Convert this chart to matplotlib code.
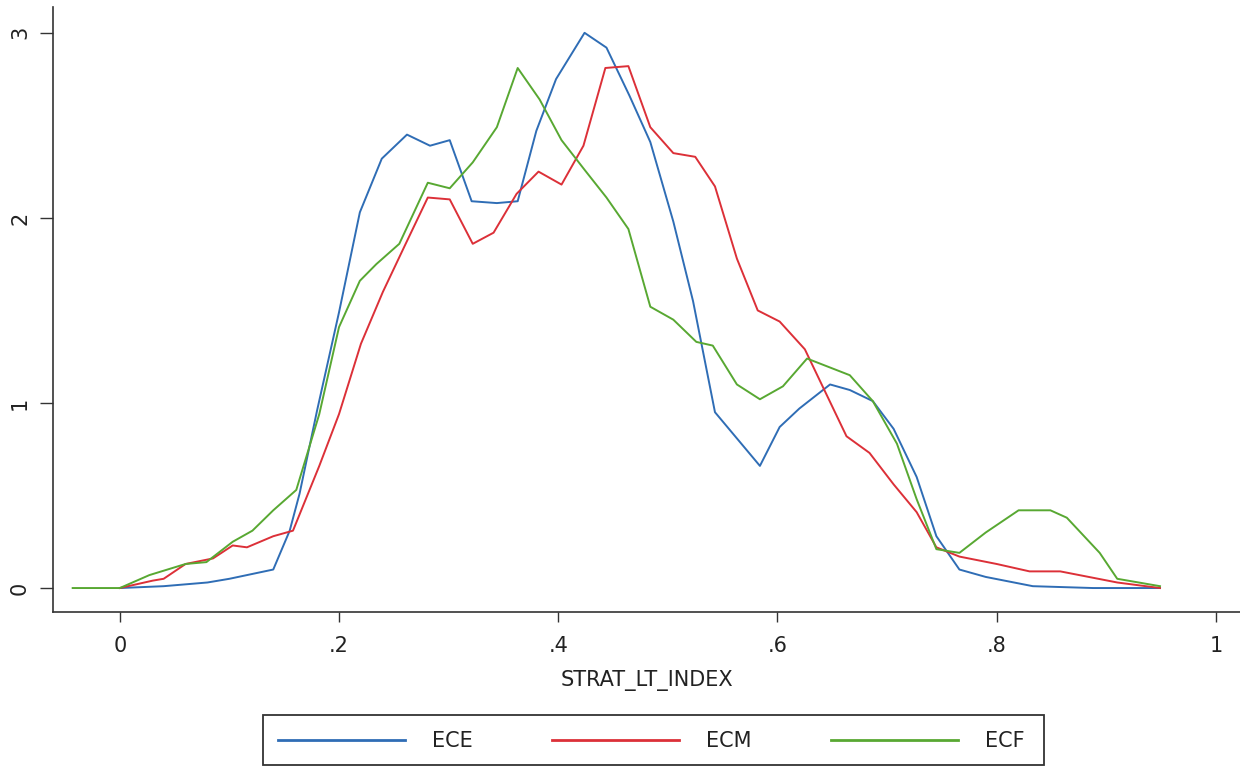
import matplotlib
matplotlib.use("Agg")
import matplotlib.pyplot as plt
from matplotlib.patches import Rectangle

plt.rcParams['font.family'] = ['DejaVu Sans']

# kernel density values
ece_x = [0, 0.04, 0.08, 0.10, 0.14, 0.155, 0.164, 0.18, 0.20, 0.219, 0.239, 0.262, 0.283, 0.301,
         0.321, 0.344, 0.363, 0.38, 0.398, 0.424, 0.444, 0.465, 0.484, 0.505, 0.523, 0.543, 0.584,
         0.602, 0.62, 0.648, 0.666, 0.687, 0.706, 0.727, 0.745, 0.766, 0.79, 0.833, 0.888, 0.949]
ece_y = [0, 0.01, 0.03, 0.05, 0.10, 0.31, 0.51, 0.96, 1.49, 2.03, 2.32, 2.45, 2.39, 2.42,
         2.09, 2.08, 2.09, 2.47, 2.75, 3.0, 2.92, 2.66, 2.41, 1.98, 1.55, 0.95, 0.66,
         0.87, 0.97, 1.10, 1.07, 1.01, 0.86, 0.60, 0.28, 0.10, 0.06, 0.01, 0.0, 0.0]

ecm_x = [0, 0.03, 0.04, 0.06, 0.085, 0.103, 0.116, 0.14, 0.158, 0.182, 0.20, 0.22, 0.24, 0.26,
         0.281, 0.301, 0.322, 0.341, 0.362, 0.382, 0.403, 0.423, 0.443, 0.464, 0.484, 0.505,
         0.525, 0.543, 0.563, 0.582, 0.602, 0.625, 0.663, 0.684, 0.706, 0.727, 0.745, 0.766,
         0.80, 0.83, 0.858, 0.91, 0.949]
ecm_y = [0, 0.04, 0.05, 0.13, 0.16, 0.23, 0.22, 0.28, 0.31, 0.66, 0.94, 1.32, 1.60, 1.85,
         2.11, 2.10, 1.86, 1.92, 2.13, 2.25, 2.18, 2.39, 2.81, 2.82, 2.49, 2.35,
         2.33, 2.17, 1.78, 1.50, 1.44, 1.29, 0.82, 0.73, 0.56, 0.41, 0.22, 0.17,
         0.13, 0.09, 0.09, 0.03, 0.0]

ecf_x = [-0.043, 0, 0.027, 0.06, 0.079, 0.103, 0.121, 0.14, 0.161, 0.182, 0.20, 0.219, 0.234,
         0.255, 0.281, 0.301, 0.322, 0.344, 0.363, 0.383, 0.403, 0.424, 0.444, 0.464, 0.484,
         0.505, 0.526, 0.541, 0.563, 0.584, 0.605, 0.627, 0.666, 0.687, 0.709, 0.727, 0.745,
         0.766, 0.79, 0.82, 0.849, 0.864, 0.894, 0.91, 0.949]
ecf_y = [0, 0, 0.07, 0.13, 0.14, 0.25, 0.31, 0.42, 0.53, 0.94, 1.41, 1.66, 1.75,
         1.86, 2.19, 2.16, 2.30, 2.49, 2.81, 2.64, 2.42, 2.26, 2.11, 1.94, 1.52,
         1.45, 1.33, 1.31, 1.10, 1.02, 1.09, 1.24, 1.15, 1.01, 0.78, 0.48, 0.21,
         0.19, 0.30, 0.42, 0.42, 0.38, 0.19, 0.05, 0.01]

x_ticks = [0, 0.2, 0.4, 0.6, 0.8, 1]
x_labels = ['0', '.2', '.4', '.6', '.8', '1']
y_ticks = [0, 1, 2, 3]

fig = plt.figure(figsize=(12.4, 7.68), dpi=100)
ax = fig.add_axes([0.0427, 0.203, 0.9573, 0.788])

l1, = ax.plot(ece_x, ece_y, color='#2f6db5', lw=1.4)
l2, = ax.plot(ecm_x, ecm_y, color='#dc3038', lw=1.4)
l3, = ax.plot(ecf_x, ecf_y, color='#58a832', lw=1.4)

ax.set_xlim(-0.061, 1.022)
ax.set_ylim(-0.13, 3.14)
ax.set_xticks(x_ticks)
ax.set_xticklabels(x_labels)
ax.set_yticks(y_ticks)
ax.set_yticklabels([str(v) for v in y_ticks], rotation=90, va='center')

for s in ['top', 'right']:
    ax.spines[s].set_visible(False)
for s in ['left', 'bottom']:
    ax.spines[s].set_color('#333333')
    ax.spines[s].set_linewidth(1.2)
ax.tick_params(axis='both', width=1, color='#333333', labelsize=15, labelcolor='#222222')
ax.tick_params(axis='y', length=9.5, pad=7)
ax.tick_params(axis='x', length=7, pad=10)
ax.set_xlabel('STRAT_LT_INDEX', fontsize=15, labelpad=10, color='#222222')

# legend without its own frame, boxed by a rectangle like the reference
leg = fig.legend([l1, l2, l3], ['ECE', 'ECM', 'ECF'], ncol=3,
                 bbox_to_anchor=(278 / 1240, 1 - 741 / 768), loc='center left',
                 handlelength=6.1, handletextpad=1.3, columnspacing=3.8,
                 frameon=False, fontsize=15, borderpad=0, borderaxespad=0)
for h in leg.get_lines():
    h.set_linewidth(2)
for t in leg.get_texts():
    t.set_color('#222222')
fig.patches.append(Rectangle((263 / 1240, 3 / 768), 781 / 1240, 50 / 768,
                             transform=fig.transFigure, fill=False,
                             edgecolor='#333333', lw=1.3))

plt.savefig('out.png', dpi=100)
